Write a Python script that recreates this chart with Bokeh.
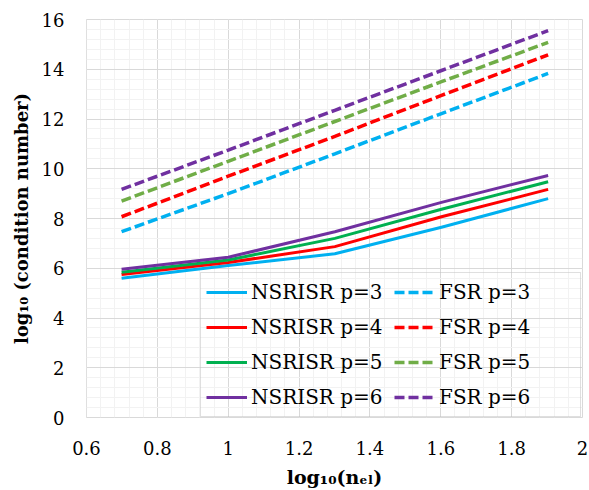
from bokeh.plotting import figure
from bokeh.models import (Legend, LegendItem, SingleIntervalTicker, ColumnDataSource)
from bokeh.embed import file_html
from bokeh.resources import INLINE

# ---- data ----
log_nel = [0.699, 1.0, 1.301, 1.602, 1.903]

nsrisr_p3 = [5.60, 6.11, 6.58, 7.65, 8.80]
nsrisr_p4 = [5.75, 6.23, 6.87, 8.07, 9.17]
nsrisr_p5 = [5.84, 6.33, 7.20, 8.37, 9.48]
nsrisr_p6 = [5.96, 6.44, 7.47, 8.65, 9.73]

fsr_p3 = [7.47, 9.00, 10.60, 12.22, 13.83]
fsr_p4 = [8.07, 9.70, 11.30, 12.95, 14.58]
fsr_p5 = [8.70, 10.30, 11.90, 13.50, 15.08]
fsr_p6 = [9.17, 10.75, 12.35, 13.95, 15.55]

x_ticks = [0.6, 0.8, 1.0, 1.2, 1.4, 1.6, 1.8, 2.0]
x_tick_labels = ["0.6", "0.8", "1", "1.2", "1.4", "1.6", "1.8", "2"]
y_ticks = [0, 2, 4, 6, 8, 10, 12, 14, 16]

series = [
    ("NSRISR p=3", nsrisr_p3, "#00B0F0", "solid"),
    ("NSRISR p=4", nsrisr_p4, "#FF0000", "solid"),
    ("NSRISR p=5", nsrisr_p5, "#00B050", "solid"),
    ("NSRISR p=6", nsrisr_p6, "#7030A0", "solid"),
    ("FSR p=3", fsr_p3, "#00B0F0", "dashed"),
    ("FSR p=4", fsr_p4, "#FF0000", "dashed"),
    ("FSR p=5", fsr_p5, "#70AD47", "dashed"),
    ("FSR p=6", fsr_p6, "#7030A0", "dashed"),
]

FONT = "DejaVu Serif"

p = figure(width=589, height=490, x_range=(0.6, 2.0), y_range=(0, 16),
           output_backend="svg", toolbar_location=None,
           min_border_left=86, min_border_right=7, min_border_top=19,
           min_border_bottom=72)
p.background_fill_color = "white"
p.border_fill_color = "white"
p.outline_line_color = "#D9D9D9"
p.outline_line_width = 1

p.xaxis.ticker = SingleIntervalTicker(interval=0.2, num_minor_ticks=5)
p.yaxis.ticker = SingleIntervalTicker(interval=2, num_minor_ticks=5)
p.xaxis.major_label_overrides = {t: l for t, l in zip(x_ticks, x_tick_labels)}

for ax in (p.xaxis[0], p.yaxis[0]):
    ax.axis_line_color = None
    ax.major_tick_line_color = None
    ax.minor_tick_line_color = None
    ax.major_tick_out = 0
    ax.major_tick_in = 0
    ax.minor_tick_out = 0
    ax.minor_tick_in = 0
    ax.major_label_text_font = FONT
    ax.major_label_text_font_size = "18px"
    ax.major_label_text_color = "black"
    ax.axis_label_text_font = FONT
    ax.axis_label_text_font_size = "18px"
    ax.axis_label_text_font_style = "bold"
    ax.axis_label_text_color = "black"

p.xaxis.axis_label = "log\u2081\u2080(n\u2091\u2097)"
p.xaxis.axis_label_text_font_size = "19px"
p.yaxis.axis_label = "log\u2081\u2080 (condition number)"
p.xaxis.major_label_standoff = 23
p.xaxis.axis_label_standoff = 8
p.yaxis.major_label_standoff = 22
p.yaxis.axis_label_standoff = 7

for g in (p.xgrid[0], p.ygrid[0]):
    g.grid_line_color = "#D9D9D9"
    g.grid_line_width = 1
    g.minor_grid_line_color = "#F2F2F2"
    g.minor_grid_line_width = 1

items = []
for name, vals, color, style in series:
    src = ColumnDataSource(dict(x=log_nel, y=vals))
    if style == "solid":
        r = p.line("x", "y", source=src, line_color=color, line_width=3,
                   line_join="round")
    else:
        r = p.line("x", "y", source=src, line_color=color, line_width=3.5,
                   line_dash="10 4")
    items.append(LegendItem(label=name, renderers=[r]))

legend = Legend(items=items, ncols=2, location=(114, 0),
                label_text_font=FONT, label_text_font_size="20px",
                label_text_color="black",
                glyph_width=41, glyph_height=28, label_height=28,
                label_width=136, label_standoff=4, spacing=7, padding=5,
                margin=0, border_line_color="#BFBFBF", border_line_width=1.5,
                background_fill_alpha=0)
p.add_layout(legend, "center")

open("out.html", "w").write(file_html(p, INLINE))
